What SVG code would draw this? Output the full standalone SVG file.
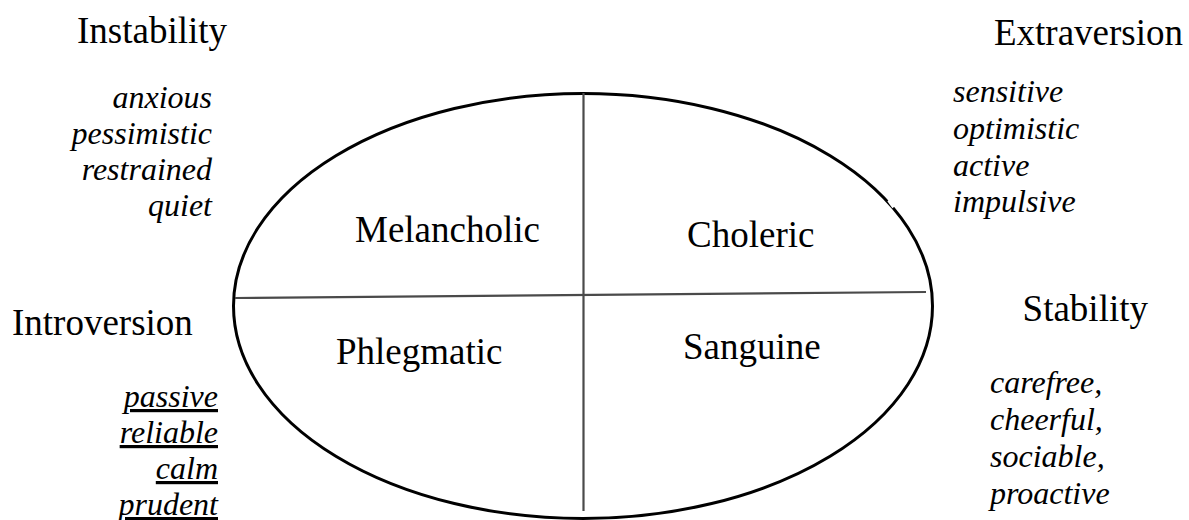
<svg xmlns="http://www.w3.org/2000/svg" width="1189" height="520" viewBox="0 0 1189 520">
<style>
.lbl{font-family:"Liberation Serif","Times New Roman",serif;font-size:37px;fill:#000}
.it{font-family:"Liberation Serif","Times New Roman",serif;font-size:32px;font-style:italic;fill:#000}
.ul{text-decoration:underline}
.ax{stroke:#4a4a4a;stroke-width:2.2;fill:none}
</style>
<rect width="1189" height="520" fill="#fff"/>
<g id="ellipse">
<ellipse cx="583" cy="306" rx="349.5" ry="212.5" fill="none" stroke="#000" stroke-width="3"/>
<line x1="889" y1="200" x2="894" y2="207" stroke="#fff" stroke-width="4"/>
</g>
<g id="connectors">
<line class="ax" x1="583.5" y1="93" x2="583.5" y2="511"/>
<line class="ax" x1="235" y1="298" x2="926" y2="292"/>
</g>
<g id="melancholic"><text class="lbl" x="355" y="242">Melancholic</text></g>
<g id="choleric"><text class="lbl" x="687" y="247">Choleric</text></g>
<g id="phlegmatic"><text class="lbl" x="336" y="364">Phlegmatic</text></g>
<g id="sanguine"><text class="lbl" x="683" y="359">Sanguine</text></g>
<g id="instability">
<text class="lbl" x="227" y="43" text-anchor="end">Instability</text>
<text class="it" text-anchor="end"><tspan x="212" y="108">anxious</tspan><tspan x="212" y="144">pessimistic</tspan><tspan x="212" y="180">restrained</tspan><tspan x="212" y="216">quiet</tspan></text>
</g>
<g id="extraversion">
<text class="lbl" x="1183" y="45" text-anchor="end">Extraversion</text>
<text class="it"><tspan x="953" y="102">sensitive</tspan><tspan x="953" y="139">optimistic</tspan><tspan x="953" y="176">active</tspan><tspan x="953" y="212">impulsive</tspan></text>
</g>
<g id="introversion">
<text class="lbl" x="12" y="335">Introversion</text>
<text class="it ul" text-anchor="end"><tspan x="218" y="407">passive</tspan><tspan x="218" y="443">reliable</tspan><tspan x="218" y="479">calm</tspan><tspan x="218" y="515">prudent</tspan></text>
</g>
<g id="stability">
<text class="lbl" x="1148" y="321" text-anchor="end">Stability</text>
<text class="it"><tspan x="990" y="393">carefree,</tspan><tspan x="990" y="430">cheerful,</tspan><tspan x="990" y="467">sociable,</tspan><tspan x="990" y="504">proactive</tspan></text>
</g>
</svg>
